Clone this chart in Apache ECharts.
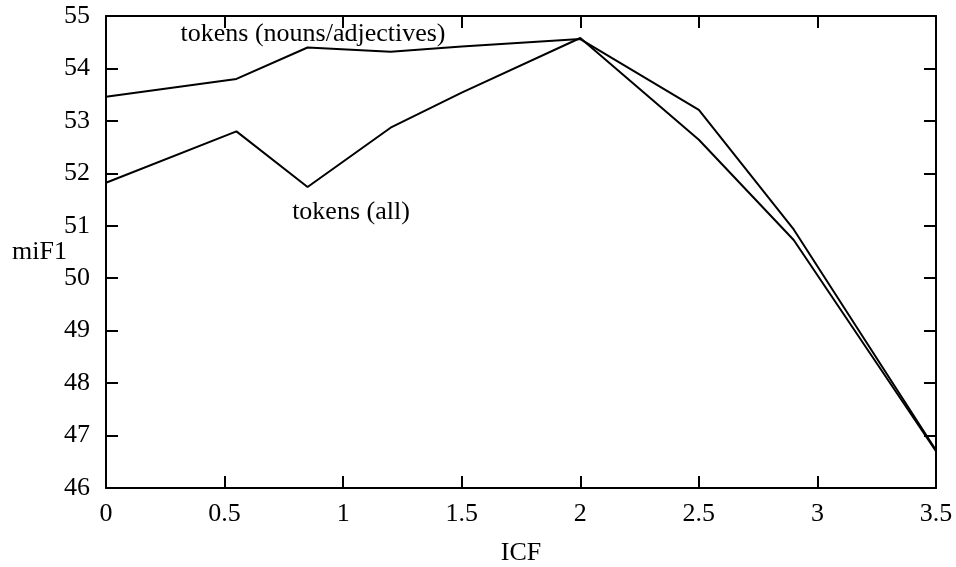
<!DOCTYPE html>
<html>
<head>
<meta charset="utf-8">
<script src="https://cdn.jsdelivr.net/npm/echarts@6/dist/echarts.min.js"></script>
<style>
  html, body { margin: 0; padding: 0; background: #fff; }
  #chart { width: 956px; height: 567px; }
</style>
</head>
<body>
<div id="chart"></div>
<script>
// ICF values sampled along the x axis
const icf = [0, 0.55, 0.85, 1.2, 1.5, 2.0, 2.5, 2.9, 3.5];
// miF1 for tokens restricted to nouns/adjectives
const nounsAdj = [53.46, 53.8, 54.4, 54.32, 54.42, 54.56, 53.21, 50.93, 46.72];
// miF1 for all tokens
const allTokens = [51.82, 52.8, 51.74, 52.87, 53.54, 54.58, 52.64, 50.73, 46.7];

const FONT = 'Liberation Serif';
const textStyle = { fontFamily: FONT, fontSize: 26, color: '#000' };

const toPairs = ys => icf.map((x, i) => [x, ys[i]]);

const frameAxis = {
  axisLine: { show: true, onZero: false, lineStyle: { color: '#000', width: 2 } },
  axisTick: { show: true, inside: true, length: 12, lineStyle: { color: '#000', width: 2 } },
  splitLine: { show: false }
};

const chart = echarts.init(document.getElementById('chart'), null, { renderer: 'canvas' });
chart.setOption({
  animation: false,
  backgroundColor: '#fff',
  textStyle: { fontFamily: FONT },
  grid: { left: 106, right: 20, top: 16, bottom: 79, containLabel: false, outerBoundsMode: 'none' },
  xAxis: [
    Object.assign({
      type: 'value', min: 0, max: 3.5, interval: 0.5, position: 'bottom',
      name: 'ICF', nameLocation: 'middle', nameGap: 52, nameMoveOverlap: false,
      nameTextStyle: textStyle,
      axisLabel: Object.assign({ margin: 13 }, textStyle)
    }, frameAxis),
    Object.assign({
      type: 'value', min: 0, max: 3.5, interval: 0.5, position: 'top',
      axisLabel: { show: false }
    }, frameAxis)
  ],
  yAxis: [
    Object.assign({
      type: 'value', min: 46, max: 55, interval: 1, position: 'left',
      name: 'miF1', nameLocation: 'middle', nameGap: 39, nameRotate: 0, nameMoveOverlap: false,
      nameTextStyle: Object.assign({ padding: [8, 0, 0, 0] }, textStyle),
      axisLabel: Object.assign({ margin: 16 }, textStyle)
    }, frameAxis),
    Object.assign({
      type: 'value', min: 46, max: 55, interval: 1, position: 'right',
      axisLabel: { show: false }
    }, frameAxis)
  ],
  series: [
    {
      name: 'tokens (nouns/adjectives)',
      type: 'line',
      data: toPairs(nounsAdj),
      showSymbol: false,
      lineStyle: { color: '#000', width: 2 },
      markPoint: {
        symbol: 'circle', symbolSize: 0,
        label: Object.assign({ show: true, position: 'inside', formatter: 'tokens (nouns/adjectives)' }, textStyle),
        data: [{ coord: [0.873, 54.65] }]
      }
    },
    {
      name: 'tokens (all)',
      type: 'line',
      data: toPairs(allTokens),
      showSymbol: false,
      lineStyle: { color: '#000', width: 2 },
      markPoint: {
        symbol: 'circle', symbolSize: 0,
        label: Object.assign({ show: true, position: 'inside', formatter: 'tokens (all)' }, textStyle),
        data: [{ coord: [1.033, 51.25] }]
      }
    }
  ]
});
</script>
</body>
</html>
